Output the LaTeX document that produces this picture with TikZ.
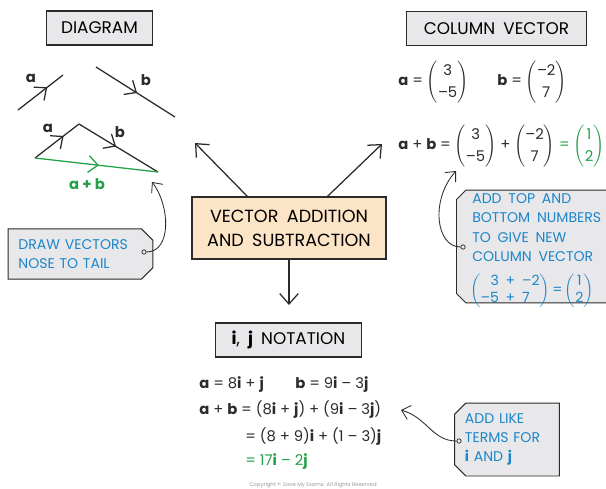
\documentclass[tikz,border=0pt]{standalone}
\usepackage{fontspec}
\setmainfont{Poppins}
\newfontfamily\VecCaps{Poppins}[WordSpace=1.8]
\usetikzlibrary{arrows.meta, calc, decorations.markings, positioning, shapes.misc}
\definecolor{vecink}{HTML}{2B2B2B}
\definecolor{vecgrey}{HTML}{E8E8EB}
\definecolor{vecpeach}{HTML}{FCE4C6}
\definecolor{vecblue}{HTML}{1C86C8}
\definecolor{vecgreen}{HTML}{23A04A}
\definecolor{vecfaint}{HTML}{9A9A9A}
\newcommand{\VecTitleFont}{\VecCaps\fontsize{12}{14}\selectfont}
\newcommand{\VecHubFont}{\VecCaps\fontsize{12.5}{17}\selectfont}
\newcommand{\VecBodyFont}{\fontsize{10.5}{13}\selectfont}
\newcommand{\VecTagFont}{\VecCaps\fontsize{10}{13.8}\selectfont}
\newcommand{\colvec}[3][1.2]{$\left(\def\arraystretch{#1}\begin{tabular}{@{}c@{}}#2\\#3\end{tabular}\right)$}
\tikzset{
  vec title box/.style={
    draw=vecink,
    fill=vecgrey,
    line width=0.8pt,
    minimum height=0.85cm,
    inner sep=0pt,
    font=\VecTitleFont
  },
  vec hub box/.style={
    draw=vecink,
    fill=vecpeach,
    line width=0.8pt,
    minimum width=4.85cm,
    minimum height=1.55cm,
    align=center,
    font=\VecHubFont
  },
  vec tag/.style={
    chamfered rectangle,
    chamfered rectangle xsep=4pt,
    chamfered rectangle ysep=4pt,
    draw=vecink,
    fill=vecgrey,
    line width=0.7pt,
    align=left,
    text=vecblue,
    font=\VecTagFont
  },
  vec tag east/.style={vec tag, chamfered rectangle corners={north east, south east}},
  vec tag west/.style={vec tag, chamfered rectangle corners={north west, south west}},
  vec tag text/.style={align=left, text=vecblue, font=\VecTagFont, inner sep=0pt},
  vec hole/.style={circle, draw=vecink, fill=vecgrey, line width=0.5pt, inner sep=1.1pt},
  vec arrow/.style={
    -{Straight Barb[length=2.6mm,width=4.6mm]},
    line width=0.9pt,
    draw=vecink
  },
  vec note arrow/.style={
    -{Straight Barb[length=2mm,width=3.6mm]},
    line width=0.6pt,
    draw=vecink
  },
  vec vector/.style={
    line width=0.9pt,
    draw=vecink,
    postaction={decorate},
    decoration={markings,
      mark=at position #1 with {\arrow{Straight Barb[length=2.4mm,width=4.2mm]}}}
  },
  vec vector/.default=0.55,
  vec label/.style={font=\VecBodyFont\bfseries, text=vecink},
  vec body/.style={font=\VecBodyFont, text=vecink, anchor=west, inner sep=0pt}
}

\begin{document}
\begin{tikzpicture}[x=0.025cm,y=-0.025cm]
\useasboundingbox (0,0) rectangle (606,488);

% section titles
\node[vec title box, minimum width=2.63cm] (diagram) at (99.5,28) {DIAGRAM};
\node[vec title box, minimum width=4.48cm] (column) at (496.5,28.5) {COLUMN VECTOR};
\node[vec title box, minimum width=3.63cm] (notation) at (288.5,340)
  {\textbf{i}, \textbf{j} NOTATION};

\node[vec hub box] (hub) at (289,228) {VECTOR ADDITION\\AND SUBTRACTION};

\coordinate (toDiagram) at (195,143);
\coordinate (toColumn) at (382,144);
\coordinate (toNotation) at (289,305);
\draw[vec arrow] ($(hub.north west)+(56,0)$) -- (toDiagram);
\draw[vec arrow] ($(hub.north west)+(136,0)$) -- (toColumn);
\draw[vec arrow] (hub.south) -- (toNotation);

% diagram: separate vectors, then nose to tail
\coordinate (aTail) at (18,110);
\coordinate (aHead) at (63,75);
\coordinate (bTail) at (96,67);
\coordinate (bHead) at (175,117);
\draw[vec vector=0.65] (aTail) -- (aHead);
\draw[vec vector=0.52] (bTail) -- (bHead);
\node[vec label] (aLabel) at (31,78) {a};
\node[vec label] (bLabel) at (146,80) {b};

\coordinate (triStart) at (35,158);
\coordinate (triTop) at (79,124);
\coordinate (triEnd) at (158,172);
\draw[vec vector=0.65] (triStart) -- (triTop);
\draw[vec vector=0.47] (triTop) -- (triEnd);
\draw[vec vector=0.52, draw=vecgreen] (triStart) -- (triEnd);
\node[vec label] (aSide) at (48,128) {a};
\node[vec label] (bSide) at (120,132) {b};
\node[vec label, text=vecgreen] (sumSide) at (87,184) {a + b};

\node[vec tag east, minimum width=3.58cm, minimum height=1.25cm, text width=3.1cm]
  (tagDraw) at (80.5,254) {DRAW VECTORS\\NOSE TO TAIL};
\node[vec hole] (holeDraw) at (144,252) {};
\coordinate (drawTarget) at (152,182);
\draw[vec note arrow] (holeDraw.east) .. controls (172,252) and (170,205) .. (drawTarget);

% column vectors
\node[vec body] (colA) at (398,82) {\textbf{a} = \colvec{3}{–5}};
\node[vec body] (colB) at (497,82) {\textbf{b} = \colvec{–2}{7}};
\node[vec body] (colSum) at (398,146)
  {\textbf{a} + \textbf{b} = \colvec{3}{–5} + \colvec{–2}{7}
   \textcolor{vecgreen}{= \colvec{1}{2}}};

\node[vec tag west, anchor=west, minimum width=3.95cm, minimum height=2.82cm]
  (tagColumn) at (456,246.5) {};
\node[vec tag text, anchor=north west] (tagColumnText) at (472,193)
  {ADD TOP AND\\BOTTOM NUMBERS\\TO GIVE NEW\\COLUMN VECTOR};
\node[vec tag text, anchor=west] (tagColumnEq) at (470,291)
  {$\left(\def\arraystretch{0.88}\begin{tabular}{@{}r@{ }l@{}}3 & + –2\\–5 & + 7\end{tabular}\right)$\,=\,\colvec[0.88]{1}{2}};
\node[vec hole] (holeColumn) at (463,247) {};
\coordinate (colTarget) at (456,171);
\draw[vec note arrow] (holeColumn.west) .. controls (436,247) and (430,200) .. (colTarget);

% i, j notation
\node[vec body] (ijA) at (199,385) {\textbf{a} = 8\textbf{i} + \textbf{j}};
\node[vec body] (ijB) at (295,385) {\textbf{b} = 9\textbf{i} – 3\textbf{j}};
\node[vec body] (ijSum) at (199,410)
  {\textbf{a} + \textbf{b} = (8\textbf{i} + \textbf{j}) + (9\textbf{i} – 3\textbf{j})};
\node[vec body] (ijStep) at (245,437) {= (8 + 9)\textbf{i} + (1 – 3)\textbf{j}};
\node[vec body, text=vecgreen] (ijResult) at (245,462) {= 17\textbf{i} – 2\textbf{j}};

\node[vec tag west, minimum width=2.6cm, minimum height=1.68cm, text width=2.1cm]
  (tagLike) at (507,439.5) {ADD LIKE\\TERMS FOR\\\textbf{i} AND \textbf{j}};
\node[vec hole] (holeLike) at (459,441) {};
\coordinate (likeTarget) at (401,410);
\draw[vec note arrow] (holeLike.west) .. controls (432,441) and (428,418) .. (likeTarget);

\node[font=\fontsize{3.8}{4}\selectfont, text=vecfaint] (copyright) at (313,485)
  {Copyright © Save My Exams. All Rights Reserved};
\end{tikzpicture}
\end{document}
